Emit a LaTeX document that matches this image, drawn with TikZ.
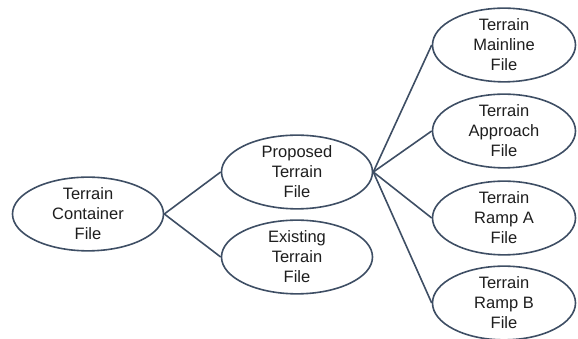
\documentclass[tikz,border=0pt]{standalone}
\usepackage{fontspec}
\setmainfont{Liberation Sans}
\definecolor{slateline}{RGB}{62, 78, 100}
\definecolor{textgrey}{RGB}{30, 30, 30}
\usetikzlibrary{shapes.geometric}

\begin{document}
\begin{tikzpicture}[
  x=1pt, y=1pt,
  file/.style={ellipse, draw=slateline, line width=1.6pt, fill=white, inner sep=0pt,
    minimum width=#1, align=center, text=textgrey, font=\fontsize{16.5}{20}\selectfont},
  file/.default=151pt,
  link/.style={draw=slateline, line width=1.6pt},
]
  \useasboundingbox (0,0) rectangle (578,339);

  \node[file, minimum height=67pt] (container) at (88, 125) {Terrain\\Container\\File};
  \node[file, minimum height=67pt] (proposed) at (297, 167) {Proposed\\Terrain\\File};
  \node[file, minimum height=67pt] (existing) at (297, 82) {Existing\\Terrain\\File};

  \node[file=143pt, minimum height=73pt] (mainline) at (504, 294) {Terrain\\Mainline\\File};
  \node[file=143pt, minimum height=73pt] (approach) at (504, 208) {Terrain\\Approach\\File};
  \node[file=143pt, minimum height=73pt] (rampa) at (504, 121) {Terrain\\Ramp A\\File};
  \node[file=143pt, minimum height=73pt] (rampb) at (504, 36) {Terrain\\Ramp B\\File};

  \draw[link] (container.east) -- (proposed.west);
  \draw[link] (container.east) -- (existing.west);
  \foreach \target in {mainline, approach, rampa, rampb}
    \draw[link] (proposed.east) -- (\target.west);
\end{tikzpicture}
\end{document}
